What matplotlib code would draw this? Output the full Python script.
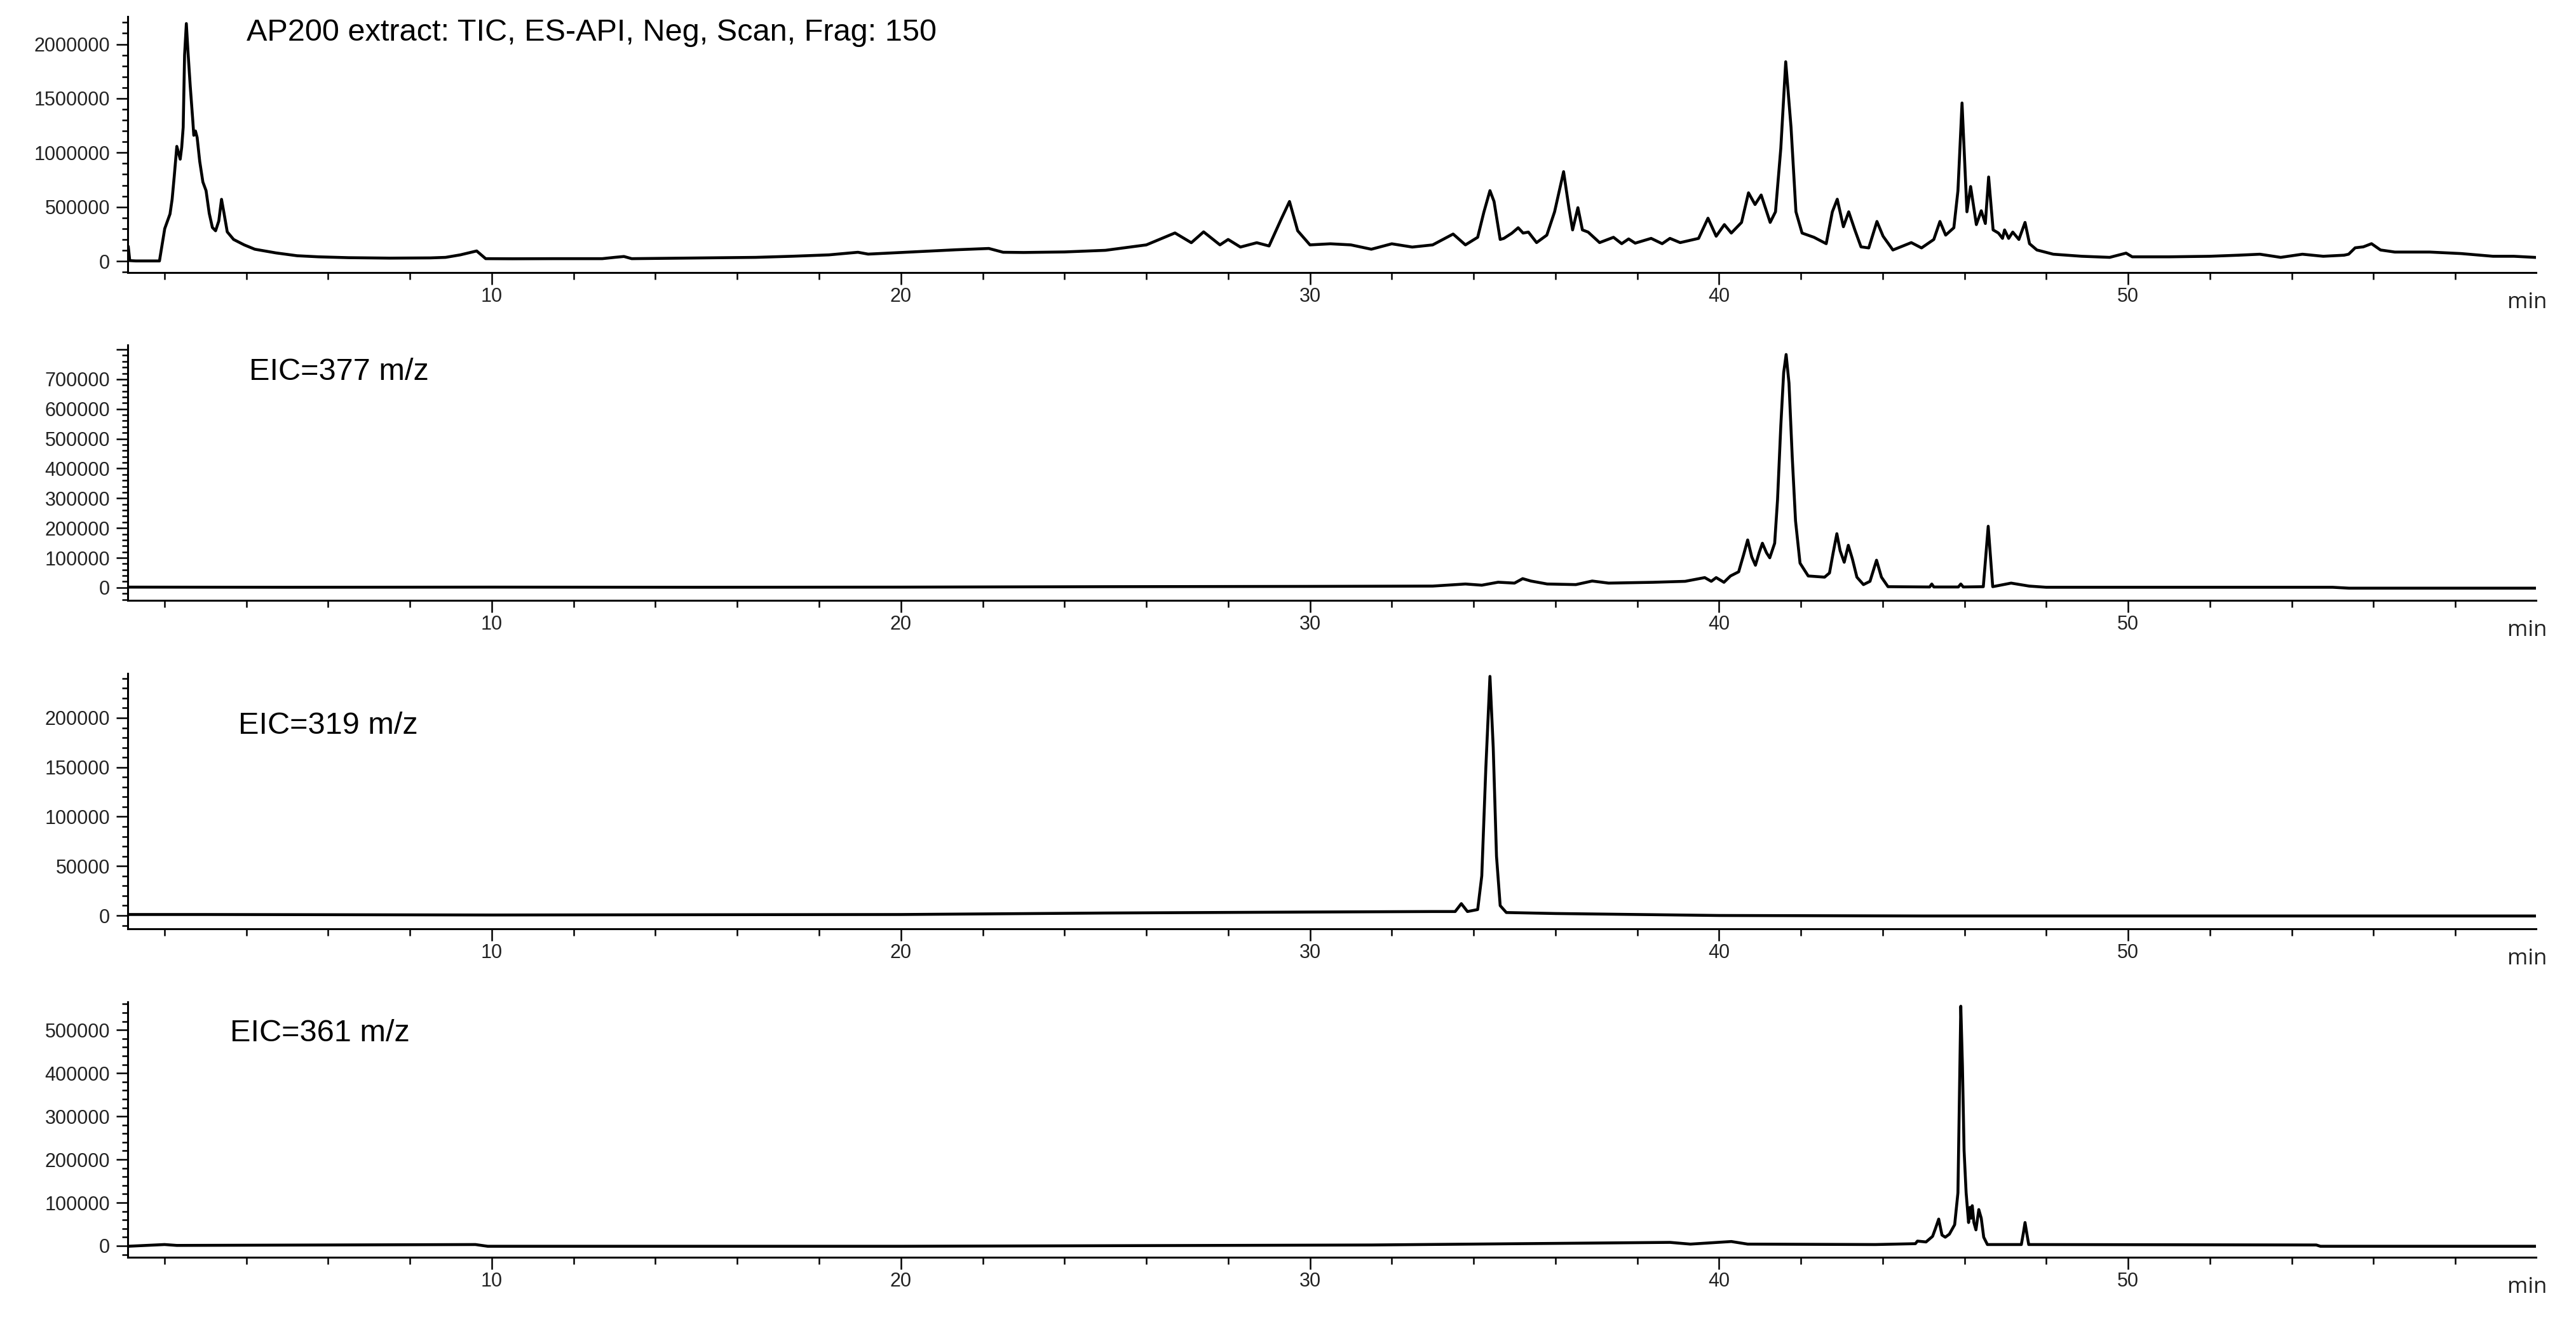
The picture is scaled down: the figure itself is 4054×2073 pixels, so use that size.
import numpy as np
import matplotlib.pyplot as plt
from matplotlib.ticker import FixedLocator, MultipleLocator

# retention time (min) / abundance
tic_t = [1.115, 1.15, 1.3, 1.876, 2.005, 2.134, 2.186, 2.238, 2.30, 2.34, 2.383, 2.42, 2.456, 2.49,
         2.533, 2.575, 2.627, 2.69, 2.715, 2.756, 2.797, 2.86, 2.937, 3.015, 3.093, 3.17, 3.248,
         3.326, 3.393, 3.455, 3.533, 3.688, 3.947, 4.206, 4.724, 5.24, 5.76, 6.5, 7.5, 8.5, 8.87,
         9.23, 9.63, 9.85, 10.5, 11.5, 12.7, 13.0, 13.23, 13.42, 14.2, 15.1, 16.45, 17.33, 18.24,
         18.95, 19.2, 20.45, 21.35, 22.15, 22.5, 23.0, 24.0, 25.0, 26.0, 26.7, 27.1, 27.4, 27.8,
         28.0, 28.3, 28.7, 29.0, 29.3, 29.5, 29.7, 30.0, 30.5, 31.0, 31.5, 32.0, 32.5, 33.0, 33.5,
         33.8, 34.1, 34.25, 34.4, 34.5, 34.65, 34.74, 34.94, 35.09, 35.21, 35.34, 35.54, 35.79,
         35.98, 36.20, 36.33, 36.42, 36.55, 36.66, 36.80, 37.08, 37.42, 37.62, 37.79, 37.95, 38.34,
         38.61, 38.80, 39.05, 39.50, 39.73, 39.93, 40.13, 40.30, 40.55, 40.72, 40.88, 41.03, 41.25,
         41.38, 41.51, 41.63, 41.76, 41.88, 42.03, 42.32, 42.62, 42.77, 42.89, 43.04, 43.17, 43.32,
         43.47, 43.66, 43.86, 44.01, 44.25, 44.70, 44.95, 45.25, 45.40, 45.54, 45.74, 45.84, 45.94,
         46.06, 46.15, 46.29, 46.41, 46.51, 46.59, 46.70, 46.83, 46.93, 46.98, 47.08, 47.18, 47.33,
         47.48, 47.59, 47.77, 48.17, 48.87, 49.55, 49.95, 50.1, 51.0, 52.0, 52.7, 53.22, 53.73,
         54.26, 54.77, 55.28, 55.39, 55.55, 55.75, 55.95, 56.17, 56.52, 57.37, 58.14, 58.92, 59.43,
         59.94]
tic_v = [130000, 5000, 2000, 2000, 300000, 435000, 571000, 785000, 1058000, 1000000, 940000,
         1050000, 1234000, 1900000, 2190000, 1920000, 1620000, 1300000, 1160000, 1200000, 1140000,
         920000, 730000, 650000, 440000, 310000, 280000, 370000, 570000, 440000, 270000, 200000,
         150000, 110000, 76000, 50000, 40000, 32000, 28000, 30000, 35000, 58000, 94000, 23000,
         22000, 23000, 23000, 35000, 43000, 23000, 26000, 29000, 35000, 45000, 58000, 82000, 65000,
         88000, 105000, 117000, 82000, 80000, 85000, 100000, 150000, 260000, 170000, 270000, 150000,
         200000, 130000, 170000, 140000, 390000, 550000, 280000, 150000, 160000, 150000, 110000,
         160000, 130000, 150000, 250000, 150000, 220000, 450000, 650000, 550000, 200000, 210000,
         259000, 308000, 259000, 268000, 171000, 240000, 455000, 825000, 493000, 288000, 493000,
         288000, 268000, 171000, 220000, 161000, 205000, 166000, 210000, 161000, 210000, 171000,
         210000, 396000, 230000, 337000, 259000, 357000, 630000, 522000, 610000, 357000, 455000,
         1040000, 1838000, 1234000, 455000, 259000, 220000, 161000, 455000, 571000, 317000, 455000,
         288000, 132000, 122000, 366000, 230000, 103000, 171000, 122000, 200000, 366000, 240000,
         308000, 649000, 1458000, 455000, 688000, 337000, 465000, 347000, 776000, 288000, 259000,
         210000, 288000, 210000, 268000, 200000, 357000, 161000, 103000, 64000, 45000, 35000, 74000,
         40000, 40000, 45000, 55000, 64000, 35000, 64000, 45000, 55000, 64000, 123000, 132000,
         161000, 103000, 84000, 84000, 70000, 45000, 45000, 35000]

eic377_t = [1.1, 5, 10, 15, 20, 25, 30, 33, 33.8, 34.2, 34.6, 35.0, 35.2, 35.4, 35.8, 36.5, 36.9,
            37.3, 38.38, 39.17, 39.65, 39.81, 39.93, 40.12, 40.28, 40.48, 40.60, 40.70, 40.80,
            40.89, 40.98, 41.06, 41.16, 41.24, 41.36, 41.43, 41.51, 41.58, 41.64, 41.71, 41.79,
            41.87, 41.98, 42.18, 42.58, 42.70, 42.79, 42.88, 42.96, 43.06, 43.16, 43.26, 43.37,
            43.53, 43.69, 43.85, 43.97, 44.13, 45.15, 45.2, 45.25, 45.85, 45.91, 45.97, 46.46,
            46.58, 46.69, 47.14, 47.58, 48.0, 55.0, 55.4, 59.97]
eic377_v = [1500, 1000, 1500, 1000, 1500, 3000, 4000, 5000, 12000, 8000, 18000, 15000, 30000,
            22000, 12000, 10000, 22000, 15000, 17700, 21000, 33500, 21000, 33500, 17700, 39000,
            53000, 110000, 160000, 103000, 75000, 117000, 149000, 117000, 100000, 149000, 295000,
            544000, 722000, 783000, 687000, 437000, 224000, 82000, 39000, 35000, 49000, 117000,
            181000, 124000, 85000, 142000, 96000, 35000, 10000, 21000, 92000, 35000, 3000, 2000,
            12000, 2000, 2000, 12000, 2000, 3000, 206000, 3000, 15000, 5000, 1000, 1000, -2000,
            -2000]

eic319_t = [1.1, 3, 10, 20, 25, 30, 33, 33.55, 33.7, 33.85, 34.1, 34.2, 34.3, 34.4, 34.48, 34.56,
            34.65, 34.8, 36, 40, 45, 59.97]
eic319_v = [1000, 1000, 500, 1000, 2500, 3500, 4000, 4000, 12000, 4000, 6000, 40000, 150000,
            242000, 170000, 60000, 10000, 3000, 2000, 0, -500, -500]

eic361_t = [1.1, 2.0, 2.3, 9.6, 9.9, 20, 24, 31.5, 38.8, 39.3, 40.3, 40.7, 43.82, 44.80, 44.85,
            45.06, 45.22, 45.29, 45.37, 45.45, 45.53, 45.63, 45.76, 45.84, 45.88, 45.91, 45.95,
            45.99, 46.04, 46.10, 46.13, 46.16, 46.19, 46.23, 46.28, 46.35, 46.41, 46.47, 46.56,
            47.39, 47.44, 47.48, 47.53, 47.57, 54.6, 54.7, 59.97]
eic361_v = [-1000, 3000, 1000, 3000, -1000, -1000, 0, 2000, 8000, 4000, 10000, 4000, 3000, 5000,
            11000, 9000, 22000, 40000, 62000, 25000, 20000, 27000, 49000, 123000, 370000, 555000,
            417000, 221000, 123000, 54000, 89000, 64000, 93000, 54000, 37000, 84000, 64000, 20000,
            3000, 3000, 30000, 54000, 25000, 3000, 2000, -1000, -1000]

labels = ['AP200 extract: TIC, ES-API, Neg, Scan, Frag: 150', 'EIC=377 m/z', 'EIC=319 m/z',
          'EIC=361 m/z']

W, H = 4055, 2073
fig = plt.figure(figsize=(W / 100, H / 100), dpi=100)

# (top px, bottom px, ylim, major ticks, labelled majors, minor step, label x px, label baseline px)
panels = [
    (26, 429, (-105000, 2255000), [0, 500000, 1000000, 1500000, 2000000], 5, 100000, 388, 64),
    (543, 945, (-43000, 815000), list(range(0, 800001, 100000)), 8, 20000, 392, 598),
    (1060, 1462, (-13500, 245000), list(range(0, 200001, 50000)), 5, 10000, 375, 1155),
    (1577, 1979, (-26500, 565000), list(range(0, 500001, 100000)), 6, 20000, 362, 1639),
]
series = [(tic_t, tic_v), (eic377_t, eic377_v), (eic319_t, eic319_v), (eic361_t, eic361_v)]

left = 201 / W
width = (3991 - 201) / W
for i, (p, (t, v)) in enumerate(zip(panels, series)):
    top, bot, ylim, majors, nlab, mstep, lx, ly = p
    ax = fig.add_axes([left, 1 - bot / H, width, (bot - top) / H])
    ax.plot(t, v, color='black', lw=3.3, solid_joinstyle='round')
    ax.set_xlim(1.1, 59.97)
    ax.set_ylim(*ylim)
    for s in ['top', 'right']:
        ax.spines[s].set_visible(False)
    for s in ['left', 'bottom']:
        ax.spines[s].set_linewidth(2.2)
    ax.xaxis.set_major_locator(MultipleLocator(10))
    ax.xaxis.set_minor_locator(MultipleLocator(2))
    ax.yaxis.set_major_locator(FixedLocator(majors))
    ax.yaxis.set_minor_locator(MultipleLocator(mstep))
    ax.set_yticklabels([str(m) if k < nlab else '' for k, m in enumerate(majors)])
    ax.tick_params(axis='x', which='major', length=13.5, width=1.8, pad=3, labelsize=22,
                   labelcolor='#222222')
    ax.tick_params(axis='x', which='minor', length=8, width=1.8)
    ax.tick_params(axis='y', which='major', length=13, width=1.8, pad=7, labelsize=22,
                   labelcolor='#222222')
    ax.tick_params(axis='y', which='minor', length=6.5, width=1.8)
    for lab in ax.get_xticklabels() + ax.get_yticklabels():
        lab.set_family('Liberation Sans')
    fig.text(lx / W, 1 - ly / H, labels[i], fontsize=35, family='Liberation Sans',
             ha='left', va='baseline', color='black')
    fig.text(3977 / W, 1 - (bot + 56) / H, 'min', fontsize=25, family='Open Sans',
             ha='center', va='baseline', color='#222222')

fig.savefig('out.png', dpi=100)
